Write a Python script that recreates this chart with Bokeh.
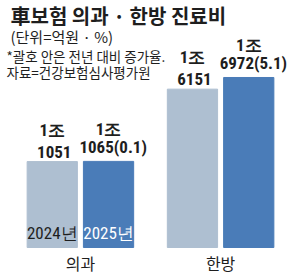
from bokeh.plotting import figure
from bokeh.models import FactorRange, Range1d, Label, ColumnDataSource
from bokeh.core.properties import value
from bokeh.embed import file_html
from bokeh.resources import INLINE

groups = ["의과", "한방"]
years = ["2024", "2025"]
values = [11051, 11065, 16151, 16972]
label_line1 = ["1조", "1조", "1조", "1조"]
label_line2 = ["1051", "1065(0.1)", "6151", "6972(5.1)"]
year_labels = ["2024년", "2025년"]

LIGHT = "#aebfd1"
DARK = "#4a7cb8"
TXT = "#1e1e1e"
NARROW = "Roboto Condensed"
KR = "Noto Sans CJK KR"

factors = [(g, y) for g in groups for y in years]
colors = [LIGHT if y == "2024" else DARK for g, y in factors]

BASE = 5000
A = 0.0142  # px per unit
Y0 = BASE - 32 / A
Y1 = Y0 + 279 / A


def est_width(s):
    w = 0.0
    for ch in s:
        if ch.isdigit():
            w += 7.6
        elif ch in "()":
            w += 4.5
        else:
            w += 3.6
    return w


offs = [-est_width(s) / 2 for s in label_line2]

src = ColumnDataSource(dict(x=factors, top=values, color=colors,
                            l1=label_line1, l2=label_line2, off=offs))

p = figure(width=300, height=279, output_backend="svg", toolbar_location=None,
           x_range=FactorRange(*factors, factor_padding=0.12, group_padding=0.67,
                               range_padding=0.53, range_padding_units="absolute"),
           y_range=Range1d(Y0, Y1), min_border=0)
p.axis.visible = False
p.grid.visible = False
p.outline_line_color = None
p.background_fill_color = "white"

p.vbar(x="x", top="top", bottom=BASE, width=1.0, color="color", source=src)

p.text(x="x", y="top", text="l2", source=src, text_align="left", text_baseline="bottom",
       text_font=value(NARROW), text_font_style="bold", text_font_size="17px",
       text_color=TXT, x_offset="off", y_offset=-4)
p.text(x="x", y="top", text="l1", source=src, text_align="center", text_baseline="bottom",
       text_font=value(NARROW), text_font_style="bold", text_font_size="17px",
       text_color=TXT, y_offset=-22)

ysrc = ColumnDataSource(dict(x=factors[:2], lab=year_labels, c=[TXT, "white"]))
p.text(x="x", y=BASE, text="lab", source=ysrc, text_align="center", text_baseline="bottom",
       text_font=value(NARROW), text_font_size="17px", text_color="c", y_offset=-5)

gsrc = ColumnDataSource(dict(x=groups, lab=groups))
p.text(x="x", y=BASE, text="lab", source=gsrc, text_align="center", text_baseline="top",
       text_font=value(KR), text_font_size="16px", text_color=TXT, y_offset=3)

def lab(t, x, y, size, bold=False):
    p.add_layout(Label(x=x, y=y, x_units="screen", y_units="screen", text=t,
                       text_font=KR, text_font_size=size,
                       text_font_style="bold" if bold else "normal",
                       text_color=TXT, text_baseline="top"))

lab("車보험 의과 · 한방 진료비", 10, 279 - 0, "20px", True)
lab("(단위=억원 · %)", 10, 279 - 25, "15px")
lab("*괄호 안은 전년 대비 증가율.", 6, 279 - 45, "13.5px")
lab("자료=건강보험심사평가원", 6, 279 - 61, "13.5px")

open("out.html", "w").write(file_html(p, INLINE))
